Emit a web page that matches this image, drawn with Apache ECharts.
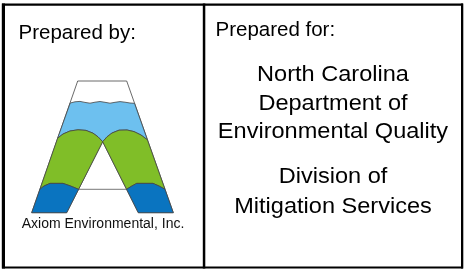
<!DOCTYPE html>
<html>
<head>
<meta charset="utf-8">
<script src="https://cdn.jsdelivr.net/npm/echarts@6/dist/echarts.min.js"></script>
<style>
html,body{margin:0;padding:0;background:#fff;}
#main{width:464px;height:269px;}
</style>
</head>
<body>
<div id="main"></div>
<script>
// Title-block texts
const leftHeading = 'Prepared by:';
const rightHeading = 'Prepared for:';
const clientLines = ['North Carolina', 'Department of', 'Environmental Quality', '', 'Division of', 'Mitigation Services'];
const companyName = 'Axiom Environmental, Inc.';

// Logo outline vertices (in pixel-space units of the chart axes)
const outerA = [[77.7,81],[126.7,81],[173.3,212.7],[138.3,212.7],[102.7,141.7],[66.7,212.7],[31.7,212.7]];
const waveTop = [[70.2,103],[75,101.8],[80,101.4],[85,102.4],[90,103.2],[95,102.2],[100,101.5],[105,102.3],[110,103.2],[115,102.3],[120,101.6],[125,102.2],[130,103],[134.5,103.3]];
const leftArch = [[57.6,138.2],[63,134],[70,131],[78,129.8],[86,130.4],[93,133.2],[98,136.8],[102.7,141.7]];
const rightArch = [[102.7,141.7],[107,136.8],[112,133],[119,130.2],[127,130],[134,131.6],[141,135],[147.4,139.8]];
const leftBlueTop = [[39.9,189.3],[44,186],[50,183.4],[63,183.4],[70,185.8],[78.6,189.3]];
const rightBlueTop = [[126.6,189.3],[131,186.5],[136.7,183.4],[153,183.4],[159,186],[165,189.3]];
const leftFoot = [[66.7,212.7],[31.7,212.7]];
const rightFoot = [[173.3,212.7],[138.3,212.7]];
const holeBottom = [[78.6,189.3],[126.6,189.3]];

const rev = a => a.slice().reverse();
const shapes = [
  {pts: outerA, fill: '#ffffff'},
  {pts: waveTop.concat(rev(rightArch), rev(leftArch)), fill: '#6DC0EF'},
  {pts: leftArch.concat(rev(leftBlueTop)), fill: '#80BE28'},
  {pts: rightArch.concat(rev(rightBlueTop)), fill: '#80BE28'},
  {pts: leftBlueTop.concat(leftFoot), fill: '#0A74C0'},
  {pts: rightBlueTop.concat(rightFoot), fill: '#0A74C0'},
  {pts: holeBottom, fill: null}
];

const chart = echarts.init(document.getElementById('main'), null, {renderer: 'canvas'});
const FONT = '"Liberation Sans", Arial, Helvetica, sans-serif';

const lineCenters = [74.2, 102.5, 130.8, null, 175.8, 205.8];
const graphics = [
  {type:'rect', shape:{x:2,y:3.5,width:461,height:2.3}, style:{fill:'#000'}},
  {type:'rect', shape:{x:2,y:266.5,width:461,height:2}, style:{fill:'#000'}},
  {type:'rect', shape:{x:1.8,y:3.5,width:3.2,height:265}, style:{fill:'#000'}},
  {type:'rect', shape:{x:461,y:3.5,width:2.3,height:265}, style:{fill:'#000'}},
  {type:'rect', shape:{x:202.8,y:3.5,width:2.5,height:265}, style:{fill:'#000'}},
  {type:'text', x:18.5, y:33.5, style:{text:leftHeading, font:'20.5px '+FONT, fill:'#000', textAlign:'left', textVerticalAlign:'middle'}},
  {type:'text', x:215.5, y:30.2, style:{text:rightHeading, font:'20.5px '+FONT, fill:'#000', textAlign:'left', textVerticalAlign:'middle'}},
  {type:'text', x:103, y:224.3, style:{text:companyName, font:'14px '+FONT, fill:'#111', textAlign:'center', textVerticalAlign:'middle'}}
];
clientLines.forEach((t,i)=>{
  if(!t) return;
  graphics.push({type:'text', x:333, y:lineCenters[i]+1, scaleX:1.07, style:{text:t, font:'22px '+FONT, fill:'#000', textAlign:'center', textVerticalAlign:'middle'}});
});

chart.setOption({
  animation:false,
  grid:{left:0,right:0,top:0,bottom:0},
  xAxis:{type:'value', min:0, max:464, show:false},
  yAxis:{type:'value', min:0, max:269, inverse:true, show:false},
  series:[{
    type:'custom',
    coordinateSystem:'cartesian2d',
    data: shapes.map((s,i)=>[i]),
    renderItem:function(params, api){
      const s = shapes[params.dataIndex];
      const pts = s.pts.map(p=>api.coord(p));
      if(!s.fill){
        return {type:'polyline', shape:{points:pts}, style:{stroke:'#555', lineWidth:0.8, fill:null}};
      }
      return {type:'polygon', shape:{points:pts}, style:{fill:s.fill, stroke:'#444', lineWidth:0.8}};
    }
  }],
  graphic: graphics
});
</script>
</body>
</html>
